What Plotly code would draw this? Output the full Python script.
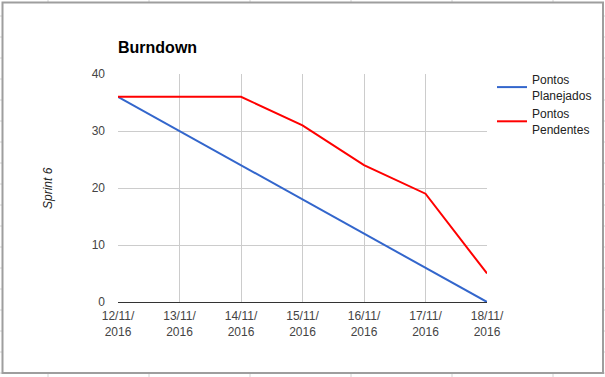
import plotly.graph_objects as go

dates = ["12/11/2016", "13/11/2016", "14/11/2016", "15/11/2016",
         "16/11/2016", "17/11/2016", "18/11/2016"]
tick_labels = ["12/11/<br>2016", "13/11/<br>2016", "14/11/<br>2016", "15/11/<br>2016",
               "16/11/<br>2016", "17/11/<br>2016", "18/11/<br>2016"]
planejados = [36, 30, 24, 18, 12, 6, 0]
pendentes = [36, 36, 36, 31, 24, 19, 5]
y_ticks = [0, 10, 20, 30, 40]

W, H = 605, 377
L, R, T, B = 118, 487, 74, 302


def px(x):
    return (x - L) / (R - L)


def py(y):
    return (B - y) / (B - T)


fig = go.Figure()
fig.add_trace(go.Scatter(x=dates, y=planejados, mode="lines", name="Pontos<br>Planejados",
                         line=dict(color="#3366cc", width=2)))
fig.add_trace(go.Scatter(x=dates, y=pendentes, mode="lines", name="Pontos<br>Pendentes",
                         line=dict(color="#ff0000", width=2)))

shapes = []
# spreadsheet background grid
for gx in [48, 149, 250, 351, 452, 553]:
    shapes.append(dict(type="line", xref="paper", yref="paper", x0=px(gx), x1=px(gx),
                       y0=py(0), y1=py(H), line=dict(color="#d4d4d4", width=1), layer="below"))
for gy in range(16, 377, 21):
    shapes.append(dict(type="line", xref="paper", yref="paper", x0=px(0), x1=px(W),
                       y0=py(gy), y1=py(gy), line=dict(color="#d4d4d4", width=1), layer="below"))
# chart box
shapes.append(dict(type="rect", xref="paper", yref="paper", x0=px(2.5), x1=px(603),
                   y0=py(373), y1=py(2.5), fillcolor="white",
                   line=dict(color="#9e9e9e", width=2), layer="below"))

fig.update_layout(
    width=W, height=H,
    margin=dict(l=L, r=W - R, t=T, b=H - B, autoexpand=False),
    paper_bgcolor="white",
    plot_bgcolor="rgba(0,0,0,0)",
    font=dict(family="Arial, Liberation Sans", size=12, color="#444"),
    title=dict(text="<b>Burndown</b>", x=px(118), xref="paper", xanchor="left",
               y=1 - 47 / H, yref="container", yanchor="middle",
               font=dict(family="Arial, Liberation Sans", size=16, color="#000")),
    shapes=shapes,
    showlegend=True,
    legend=dict(xref="container", yref="container", x=492 / W, y=1 - 65 / H,
                xanchor="left", yanchor="top",
                font=dict(size=12, color="#222"), bgcolor="rgba(0,0,0,0)",
                tracegroupgap=0, itemwidth=30),
    xaxis=dict(type="category", range=[0, len(dates) - 1], tickvals=dates, ticktext=tick_labels,
               showgrid=True, gridcolor="#cccccc", gridwidth=1,
               showline=False,
               ticks="", tickfont=dict(size=12, color="#444"), ticklabelstandoff=5),
    yaxis=dict(range=[0, 40], tickvals=y_ticks, showgrid=True, gridcolor="#cccccc",
               zeroline=True, zerolinecolor="#333333", zerolinewidth=1.2,
               ticks="", tickfont=dict(size=12, color="#444"), ticklabelstandoff=12),
    annotations=[dict(text="<i>Sprint 6</i>", xref="paper", yref="paper", x=px(48), y=py(188),
                      textangle=-90, showarrow=False, xanchor="center", yanchor="middle",
                      font=dict(size=12, color="#222"))],
)

fig.write_html("out.html", config={"displayModeBar": False},
               post_script="document.body.style.margin='0';")
